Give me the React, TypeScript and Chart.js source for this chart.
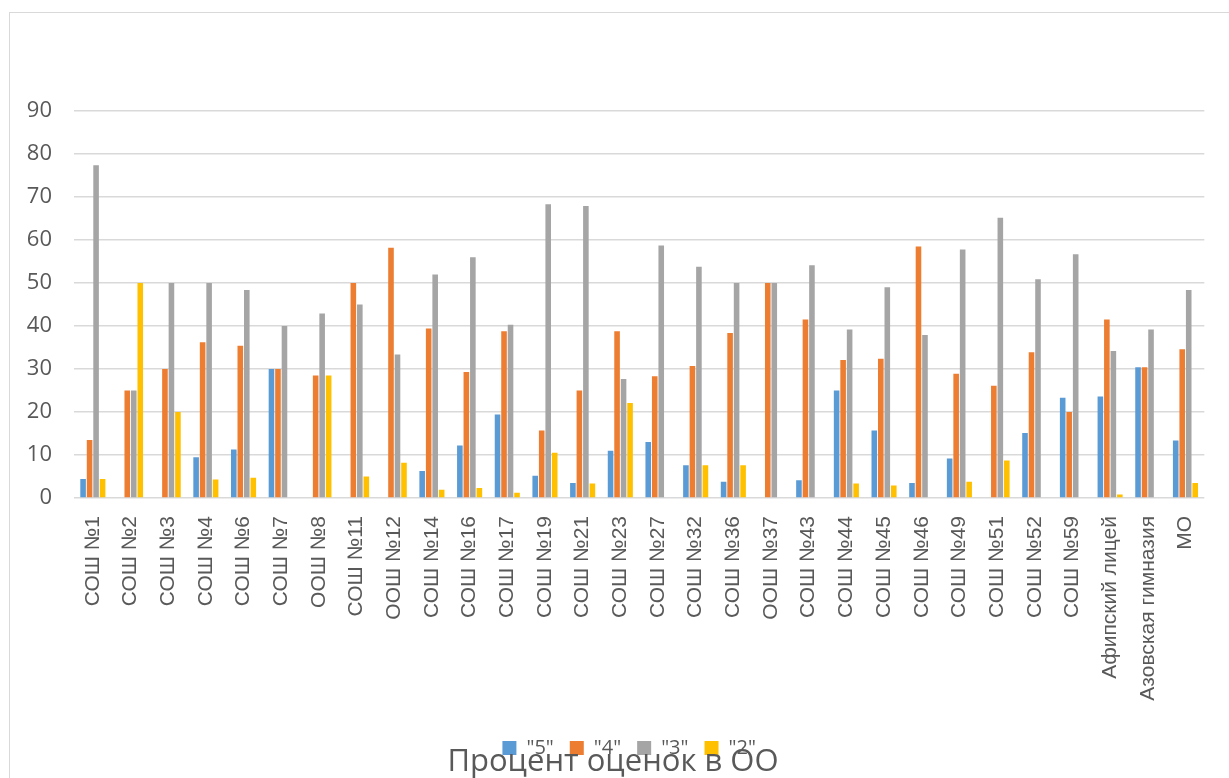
import React, { useEffect, useRef } from "react";
import { Chart, registerables } from "chart.js";

Chart.register(...registerables);

const categories = [
  "СОШ №1", "СОШ №2", "СОШ №3", "СОШ №4", "СОШ №6", "СОШ №7", "ООШ №8", "СОШ №11",
  "ООШ №12", "СОШ №14", "СОШ №16", "СОШ №17", "СОШ №19", "СОШ №21", "СОШ №23", "СОШ №27",
  "СОШ №32", "СОШ №36", "ООШ №37", "СОШ №43", "СОШ №44", "СОШ №45", "СОШ №46", "СОШ №49",
  "СОШ №51", "СОШ №52", "СОШ №59", "Афипский лицей", "Азовская гимназия", "МО",
];

const grade5 = [
  4.4, 0, 0, 9.5, 11.3, 30, 0, 0, 0, 6.3, 12.2, 19.4, 5.2, 3.5, 11, 13,
  7.6, 3.8, 0, 4.1, 25, 15.7, 3.5, 9.2, 0, 15.1, 23.3, 23.6, 30.4, 13.4,
];
const grade4 = [
  13.5, 25, 30, 36.2, 35.4, 30, 28.5, 50, 58.2, 39.4, 29.3, 38.8, 15.7, 25, 38.8, 28.3,
  30.7, 38.4, 50, 41.5, 32.1, 32.4, 58.5, 28.9, 26.1, 33.9, 20, 41.5, 30.4, 34.6,
];
const grade3 = [
  77.4, 25, 50, 50, 48.4, 40, 42.9, 45, 33.4, 52, 56, 40.3, 68.3, 67.9, 27.7, 58.7,
  53.8, 50, 50, 54.1, 39.2, 49, 37.9, 57.8, 65.2, 50.9, 56.7, 34.2, 39.2, 48.4,
];
const grade2 = [
  4.4, 50, 20, 4.3, 4.7, 0, 28.5, 5, 8.2, 1.9, 2.3, 1.2, 10.5, 3.4, 22.1, 0,
  7.6, 7.6, 0, 0, 3.4, 2.9, 0, 3.8, 8.7, 0, 0, 0.8, 0, 3.5,
];

const seriesLabels = ['"5"', '"4"', '"3"', '"2"'];
const seriesColors = ["#5B9BD5", "#ED7D31", "#A5A5A5", "#FFC000"];
const yTicks = [0, 10, 20, 30, 40, 50, 60, 70, 80, 90];
const chartTitle = "Процент оценок в ОО";

const titlePlugin = {
  id: "bottomTitle",
  afterLayout(chart: any) {
    if (chart.legend) {
      chart.legend.left -= 10;
      chart.legend.right -= 10;
    }
  },
  afterDraw(chart: any) {
    const ctx = chart.ctx;
    ctx.save();
    ctx.font = '31px "Open Sans"';
    ctx.fillStyle = "#595959";
    ctx.textAlign = "center";
    ctx.textBaseline = "alphabetic";
    ctx.fillText(chartTitle, 613, 771);
    ctx.restore();
  },
};

export default function App() {
  const canvasRef = useRef<HTMLCanvasElement | null>(null);

  useEffect(() => {
    if (!canvasRef.current) return;
    const values = [grade5, grade4, grade3, grade2];
    const chart = new Chart(canvasRef.current, {
      type: "bar",
      data: {
        labels: categories,
        datasets: values.map((v, i) => ({
          label: seriesLabels[i],
          data: v,
          backgroundColor: seriesColors[i],
          borderWidth: 0,
          categoryPercentage: 0.69,
          barPercentage: 0.86,
        })),
      },
      options: {
        responsive: false,
        animation: false,
        layout: { padding: { left: 0, right: 20, top: 111, bottom: 10 } },
        plugins: {
          legend: {
            position: "bottom",
            fullSize: false,
            labels: {
              boxWidth: 14,
              boxHeight: 14,
              padding: 16,
              color: "#595959",
              font: { family: '"Open Sans"', size: 20 },
            },
          },
          title: { display: false },
          tooltip: { enabled: false },
        },
        scales: {
          x: {
            grid: { display: false, drawTicks: false },
            border: { display: false },
            ticks: {
              minRotation: 90,
              maxRotation: 90,
              autoSkip: false,
              padding: 18,
              color: "#595959",
              font: { family: '"Liberation Sans"', size: 21 },
            },
            afterFit: (scale: any) => {
              scale.height = 224;
            },
          },
          y: {
            min: 0,
            max: 90,
            afterBuildTicks: (scale: any) => {
              scale.ticks = yTicks.map((v) => ({ value: v }));
            },
            grid: { color: "#d9d9d9", lineWidth: 1.5, drawTicks: false },
            border: { display: false },
            ticks: {
              padding: 22,
              color: "#595959",
              font: { family: '"Open Sans"', size: 22 },
            },
            afterFit: (scale: any) => {
              scale.width = 74;
            },
          },
        },
      },
      plugins: [titlePlugin],
    });
    return () => chart.destroy();
  }, []);

  return (
    <div
      style={{
        position: "fixed",
        left: 0,
        top: 0,
        width: 1229,
        height: 778,
        overflow: "hidden",
        background: "#fff",
      }}
    >
      <div
        style={{
          position: "absolute",
          left: 9,
          top: 12,
          width: 1300,
          height: 900,
          border: "1px solid #d9d9d9",
        }}
      />
      <canvas
        ref={canvasRef}
        width={1229}
        height={778}
        style={{ position: "absolute", left: 0, top: 0, width: 1229, height: 778 }}
      />
    </div>
  );
}
